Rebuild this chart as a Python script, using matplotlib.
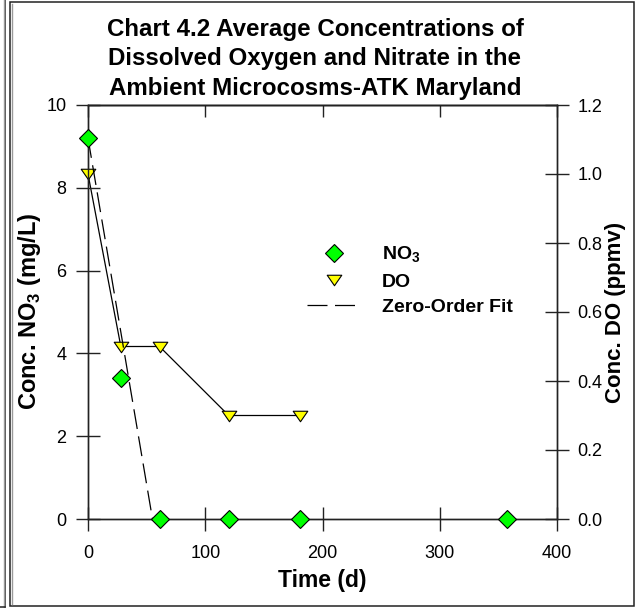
import matplotlib
matplotlib.use("Agg")
import matplotlib.pyplot as plt
from matplotlib.lines import Line2D
from matplotlib.patches import Rectangle
from matplotlib.path import Path

plt.rcParams['font.family'] = ['Liberation Sans', 'DejaVu Sans']
plt.rcParams['mathtext.fontset'] = 'custom'
plt.rcParams['mathtext.rm'] = 'Liberation Sans'
plt.rcParams['mathtext.bf'] = 'Liberation Sans:bold'

# Nitrate (mg/L) and dissolved oxygen (ppmv) over time (days)
no3_days = [0, 28, 61, 120, 181, 357]
no3_conc = [9.2, 3.4, 0.0, 0.0, 0.0, 0.0]
do_days = [0, 28, 61, 120, 181]
do_conc = [1.0, 0.5, 0.5, 0.3, 0.3]
# zero-order fit of nitrate: start and end points
fit_days = [0, 55]
fit_conc = [9.2, 0.0]

x_ticks = [0, 100, 200, 300, 400]
no3_ticks = [0, 2, 4, 6, 8, 10]
do_ticks = [0.0, 0.2, 0.4, 0.6, 0.8, 1.0, 1.2]

W, H = 637, 608
fig = plt.figure(figsize=(W / 100, H / 100), dpi=100)

def fx(px):
    return px / W

def fy(py):
    return 1 - py / H

# page frame
fig.patches.append(Rectangle((fx(10), fy(606)), fx(634) - fx(10), fy(2) - fy(606),
                             transform=fig.transFigure, fill=False, lw=1.1,
                             edgecolor='#222222'))
fig.lines.append(Line2D([fx(11.5), fx(11.5)], [fy(4), fy(604)], transform=fig.transFigure,
                        color='#9a9a9a', lw=1.0))
fig.lines.append(Line2D([fx(5), fx(5)], [fy(0), fy(607)], transform=fig.transFigure,
                        color='#222222', lw=1.1))
fig.lines.append(Line2D([fx(3.5), fx(3.5)], [fy(0), fy(607)], transform=fig.transFigure,
                        color='#9a9a9a', lw=1.0))
fig.lines.append(Line2D([fx(0), fx(5)], [fy(607), fy(607)], transform=fig.transFigure,
                        color='#222222', lw=1.1))

ax = fig.add_axes([fx(88), fy(519), fx(557) - fx(88), fy(105) - fy(519)])
ax2 = ax.twinx()

ax.set_xlim(0, 400)
ax.set_ylim(0, 10)
ax2.set_ylim(0, 1.2)

# wide, flat down-pointing triangle
tri = Path([(-1, 0.72), (1, 0.72), (0, -0.72), (-1, 0.72)],
           [Path.MOVETO, Path.LINETO, Path.LINETO, Path.CLOSEPOLY])

ax.plot(fit_days, fit_conc, color='black', lw=0.9, dashes=(16, 6), zorder=2)
ax2.plot(do_days, do_conc, color='black', lw=0.9, zorder=2)
ax2.plot(do_days, do_conc, ls='none', marker=tri, ms=10.5, mfc='#ffff00',
         mec='black', mew=0.8, zorder=3, clip_on=False)
ax.plot(no3_days, no3_conc, ls='none', marker='D', ms=9, mfc='#00ff00',
        mec='black', mew=0.8, zorder=3, clip_on=False)

ax.set_zorder(2)
ax2.set_zorder(1)
ax.patch.set_visible(False)

for a in (ax, ax2):
    for s in a.spines.values():
        s.set_linewidth(1.0)
        s.set_color('#222222')

ax.set_xticks(x_ticks)
ax.set_yticks(no3_ticks)
ax.set_xticklabels([str(v) for v in x_ticks])
ax.set_yticklabels([str(v) for v in no3_ticks])
ax2.set_yticks(do_ticks)
ax2.set_yticklabels([f'{v:.1f}' for v in do_ticks])

ax.tick_params(axis='x', direction='inout', length=17, width=1.0, pad=10,
               labelsize=13, top=False, color='#222222')
ax.tick_params(axis='y', direction='inout', length=17, width=1.0, pad=7,
               labelsize=13, right=False, color='#222222')
ax2.tick_params(axis='y', direction='inout', length=17, width=1.0, pad=6,
                labelsize=13, color='#222222')

top = ax.secondary_xaxis('top')
top.set_xticks(x_ticks)
top.tick_params(direction='in', length=8.5, width=1.0, labeltop=False, color='#222222')
top.spines['top'].set_linewidth(1.0)

ax.set_xlabel('Time (d)', fontsize=16.5, fontweight='bold', labelpad=5)
ax.set_ylabel(r'Conc. NO$_{\mathbf{3}}$ (mg/L)', fontsize=17, fontweight='bold')
ax.yaxis.set_label_coords((43 - 88) / (557 - 88), (519 - 311) / (519 - 105))
ax2.set_ylabel('Conc. DO (ppmv)', fontsize=16, fontweight='bold', rotation=90)
ax2.yaxis.set_label_coords((605 - 88) / (557 - 88), (519 - 312) / (519 - 105))

fig.text(fx(315), fy(59), 'Chart 4.2 Average Concentrations of\n'
         'Dissolved Oxygen and Nitrate in the\nAmbient Microcosms-ATK Maryland',
         ha='center', va='center', fontsize=17.4, fontweight='bold', linespacing=1.36)

handles = [
    Line2D([], [], ls='none', marker='D', ms=9, mfc='#00ff00', mec='black', mew=0.8),
    Line2D([], [], ls='none', marker=tri, ms=10.5, mfc='#ffff00', mec='black', mew=0.8),
    Line2D([], [], color='black', lw=0.9, dashes=(16, 6)),
]
labels = [r'NO$_{\mathbf{3}}$', 'DO', 'Zero-Order Fit']
leg = ax.legend(handles, labels, loc='upper left',
                bbox_to_anchor=(fx(307), fy(245)), bbox_transform=fig.transFigure,
                frameon=False, prop={'size': 14, 'weight': 'bold'},
                handlelength=2.75, handletextpad=1.1, labelspacing=0.4,
                borderpad=0, borderaxespad=0)

fig.savefig('out.png', dpi=100)
